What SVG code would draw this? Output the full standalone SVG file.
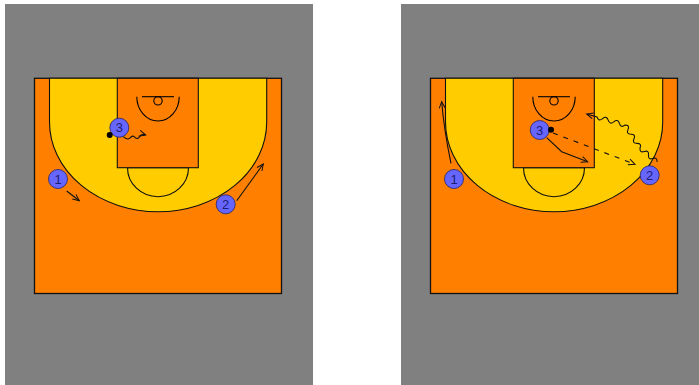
<svg xmlns="http://www.w3.org/2000/svg" width="699" height="385" viewBox="0 0 699 385">
<style>
.panel{fill:#808080}
.ln{stroke:#000;stroke-width:1.1;fill:none}
.out{fill:#ff8000;stroke:#111;stroke-width:1.3}
.three{fill:#ffcc00;stroke:#111;stroke-width:1.1}
.key{fill:#ff8000;stroke:#111;stroke-width:1.1}
.ft{fill:#ffcc00;stroke:#111;stroke-width:1.1}
.pl{fill:#6666ff;stroke:#22226a;stroke-width:.8}
.lbl{font:13px "Liberation Sans",Arial,sans-serif;fill:#1c1c70;text-anchor:middle}
.mv{stroke:#111;stroke-width:1.1;fill:none;marker-end:url(#ah)}
.ball{fill:#000}
</style>
<defs>
<marker id="ah" markerUnits="userSpaceOnUse" markerWidth="10" markerHeight="8" refX="8" refY="4" orient="auto">
<path d="M1.5,1 L8,4 L1.5,7" fill="none" stroke="#111" stroke-width="1"/>
</marker>
<g id="court">
<rect class="out" x="34.5" y="78.3" width="247" height="215.2"/>
<path class="three" d="M49.5,78.3 V122 A108.6,89.7 0 0 0 266.7,122 V78.3 Z"/>
<path class="ft" d="M127.5,167.7 A30.5,29 0 0 0 188.5,167.7 Z"/>
<rect class="key" x="117.3" y="78.3" width="81" height="89.4"/>
<path class="ln" d="M142,96.7 H174"/>
<circle class="ln" cx="158" cy="100.8" r="4.2"/>
<path class="ln" d="M136.8,96.7 A21.2,24.3 0 0 0 179.2,96.7"/>
</g>
</defs>
<rect width="699" height="385" fill="#fff"/>
<rect class="panel" x="5" y="4" width="308" height="381"/>
<rect class="panel" x="401" y="4" width="298" height="381"/>
<g id="court-left"><use href="#court"/></g>
<g id="court-right"><use href="#court" x="396"/></g>
<g id="connectors">
<path class="mv" d="M66.7,191 L79.3,200.7"/>
<path class="mv" d="M236.7,200.7 L263.3,164"/>
<path class="mv" d="M123.3,136.7 Q127,140.5 130,138 Q133,134.5 135,137.5 Q138,140 140,136 Q142,134 145.7,135"/>
<path class="mv" d="M451,163.3 Q444,130 441.7,101.7"/>
<path class="mv" d="M546.7,137.7 L561.7,151.7 L587.7,161.7"/>
<path class="mv" stroke-dasharray="5 6" d="M553,133 L635,164.3"/>
<path class="mv" d="M657,162 Q657.6,157 652.75,158.5 Q647.9,160 648.5,155 Q649.1,150 644.25,151.5 Q639.4,153 640,148 Q642,143.4 637,143.4 Q632,143.4 634,138.8 Q636,134.2 631,134.2 Q626,134.2 628,129.6 Q630,125 625,125 Q621,128.3 619.4,123.4 Q617.8,118.5 613.8,121.8 Q609.8,125.1 608.2,120.2 Q606.6,115.3 602.6,118.6 Q598.6,121.9 597,117 L586.7,114"/>
</g>
<g id="left-p1"><circle class="pl" cx="58" cy="179" r="9.5"/><text class="lbl" x="58" y="183.6">1</text></g>
<g id="left-p2"><circle class="pl" cx="225.7" cy="204.3" r="9.5"/><text class="lbl" x="225.7" y="208.9">2</text></g>
<g id="left-p3"><circle class="pl" cx="119.3" cy="127.7" r="9.5"/><text class="lbl" x="119.3" y="132.3">3</text></g>
<g id="left-ball"><circle class="ball" cx="109.7" cy="135" r="3"/></g>
<g id="right-p1"><circle class="pl" cx="454" cy="179" r="9.5"/><text class="lbl" x="454" y="183.6">1</text></g>
<g id="right-p2"><circle class="pl" cx="649.7" cy="175.3" r="9.5"/><text class="lbl" x="649.7" y="179.9">2</text></g>
<g id="right-p3"><circle class="pl" cx="539.7" cy="130" r="9.5"/><text class="lbl" x="539.7" y="134.6">3</text></g>
<g id="right-ball"><circle class="ball" cx="551" cy="129.7" r="3"/></g>
</svg>
